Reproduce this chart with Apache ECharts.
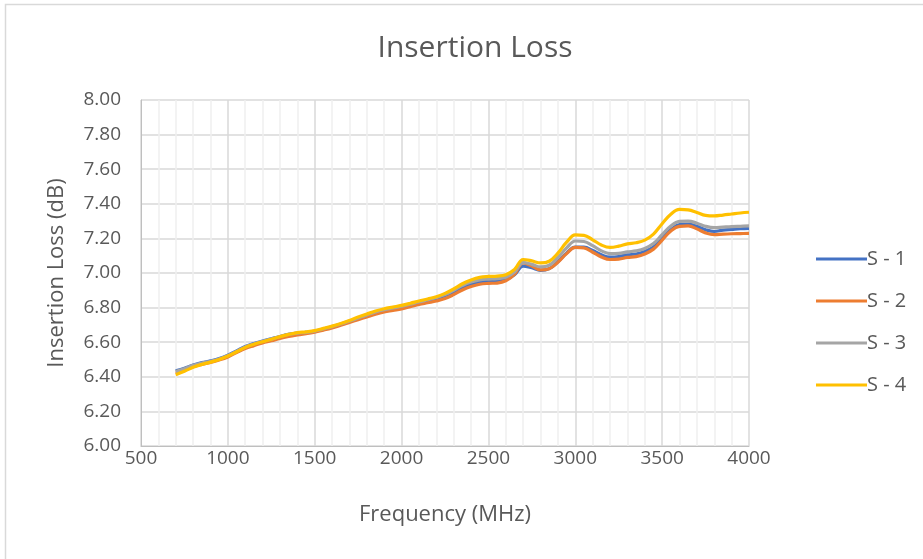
<!DOCTYPE html>
<html>
<head>
<meta charset="utf-8">
<script src="https://cdn.jsdelivr.net/npm/echarts@6/dist/echarts.min.js"></script>
<style>html,body{margin:0;padding:0;background:#fff}#c{width:923px;height:559px}</style>
</head>
<body>
<div id="c"></div>
<script>
const freq = [700,750,800,850,900,950,1000,1050,1100,1150,1200,1250,1300,1350,1400,1450,1500,1550,1600,1650,1700,1750,1800,1850,1900,1950,2000,2050,2100,2150,2200,2250,2300,2350,2400,2450,2500,2550,2600,2650,2700,2750,2800,2850,2900,2950,3000,3050,3100,3150,3200,3250,3300,3350,3400,3450,3500,3550,3600,3650,3700,3750,3800,3850,3900,3950,4000];
const s1 = [6.435,6.450,6.468,6.482,6.492,6.505,6.525,6.550,6.575,6.592,6.607,6.620,6.633,6.645,6.652,6.657,6.663,6.675,6.688,6.703,6.720,6.738,6.755,6.772,6.785,6.795,6.805,6.815,6.828,6.840,6.852,6.868,6.890,6.915,6.935,6.948,6.952,6.955,6.962,6.990,7.040,7.030,7.015,7.025,7.065,7.115,7.150,7.150,7.130,7.105,7.092,7.095,7.105,7.110,7.125,7.150,7.200,7.250,7.280,7.283,7.270,7.250,7.240,7.248,7.252,7.256,7.258];
const s2 = [6.420,6.438,6.458,6.472,6.483,6.497,6.515,6.540,6.563,6.580,6.596,6.608,6.622,6.633,6.642,6.650,6.658,6.670,6.683,6.698,6.714,6.730,6.746,6.762,6.775,6.784,6.793,6.805,6.818,6.828,6.838,6.852,6.875,6.902,6.922,6.935,6.940,6.942,6.955,6.992,7.058,7.040,7.018,7.025,7.062,7.112,7.148,7.145,7.120,7.093,7.078,7.080,7.090,7.095,7.110,7.138,7.190,7.243,7.270,7.272,7.255,7.232,7.222,7.225,7.227,7.228,7.229];
const s3 = [6.430,6.447,6.466,6.480,6.490,6.503,6.522,6.547,6.572,6.590,6.605,6.618,6.632,6.645,6.652,6.657,6.664,6.677,6.690,6.705,6.722,6.740,6.758,6.775,6.788,6.798,6.808,6.820,6.832,6.845,6.858,6.875,6.900,6.928,6.948,6.960,6.965,6.968,6.975,7.005,7.060,7.050,7.035,7.045,7.090,7.145,7.185,7.182,7.158,7.128,7.112,7.113,7.122,7.128,7.142,7.170,7.222,7.272,7.298,7.300,7.288,7.270,7.262,7.265,7.268,7.270,7.272];
const s4 = [6.412,6.432,6.455,6.472,6.485,6.500,6.520,6.545,6.570,6.588,6.603,6.617,6.632,6.645,6.655,6.660,6.667,6.680,6.693,6.708,6.726,6.745,6.763,6.780,6.793,6.803,6.813,6.825,6.838,6.850,6.863,6.882,6.908,6.938,6.960,6.975,6.980,6.982,6.990,7.020,7.078,7.070,7.058,7.068,7.115,7.178,7.220,7.218,7.192,7.162,7.148,7.155,7.168,7.175,7.190,7.225,7.285,7.340,7.368,7.365,7.350,7.333,7.330,7.335,7.341,7.347,7.351];
const seriesNames = ['S - 1','S - 2','S - 3','S - 4'];
const colors = ['#4472C4','#ED7D31','#A5A5A5','#FFC000'];
const values = [s1, s2, s3, s4];

const FONT = '"Open Sans", "Liberation Sans", sans-serif';
const chart = echarts.init(document.getElementById('c'), null, {renderer: 'canvas'});
chart.setOption({
  animation: false,
  backgroundColor: '#fff',
  title: {
    text: 'Insertion Loss', left: 470, top: 28, textAlign: 'center',
    textStyle: {fontFamily: FONT, fontSize: 30, fontWeight: 'normal', color: '#595959'}
  },
  graphic: [{
    type: 'polyline', silent: true,
    shape: {points: [[5.5, 600], [5.5, 4.5], [1000, 4.5]]},
    style: {stroke: '#D9D9D9', lineWidth: 1.5, fill: null}
  }],
  legend: {
    orient: 'vertical', left: 811, top: 244, itemGap: 22,
    icon: 'rect', itemWidth: 51, itemHeight: 3,
    textStyle: {fontFamily: FONT, fontSize: 20, color: '#595959', padding: [0, 0, 0, -5]},
    data: seriesNames
  },
  grid: {left: 141, right: 174, top: 100, bottom: 113, containLabel: false},
  xAxis: {
    type: 'value', min: 500, max: 4000, interval: 500,
    name: 'Frequency (MHz)', nameLocation: 'middle', nameGap: 58,
    nameTextStyle: {fontFamily: FONT, fontSize: 22, color: '#595959'},
    axisLine: {show: true, lineStyle: {color: '#BFBFBF', width: 1}},
    axisTick: {show: false},
    axisLabel: {fontFamily: FONT, fontSize: 19, color: '#595959', margin: 3,
      formatter: v => String(v)},
    splitLine: {show: true, lineStyle: {color: '#D9D9D9', width: 1.5}},
    minorTick: {show: false, splitNumber: 5},
    minorSplitLine: {show: true, lineStyle: {color: '#F0F0F0', width: 1.5}}
  },
  yAxis: {
    type: 'value', min: 6, max: 8, interval: 0.2,
    name: 'Insertion Loss (dB)', nameLocation: 'middle', nameGap: 73, nameRotate: 90,
    nameTextStyle: {fontFamily: FONT, fontSize: 22, color: '#595959'},
    axisLine: {show: true, lineStyle: {color: '#BFBFBF', width: 1}},
    axisTick: {show: false},
    axisLabel: {fontFamily: FONT, fontSize: 19, color: '#595959', margin: 20,
      formatter: v => v.toFixed(2)},
    splitLine: {show: true, lineStyle: {color: '#D9D9D9', width: 1.5}}
  },
  series: values.map((arr, i) => ({
    name: seriesNames[i], type: 'line', smooth: 0.4, showSymbol: false,
    color: colors[i],
    lineStyle: {width: 3.2, color: colors[i]},
    data: freq.map((f, j) => [f, arr[j]])
  }))
});
</script>
</body>
</html>
